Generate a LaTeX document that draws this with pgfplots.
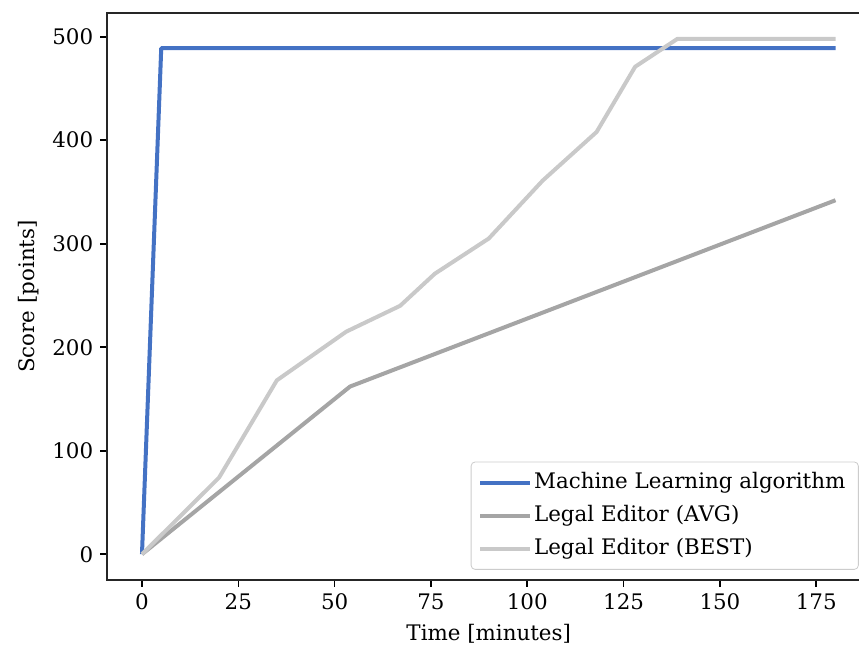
\documentclass[border=0pt]{standalone}
\usepackage{fontspec}
\setmainfont{DejaVu Serif}
\usepackage{pgfplots}
\pgfplotsset{compat=1.18}
\definecolor{mlblue}{HTML}{4472C4}
\definecolor{avggray}{HTML}{A5A5A5}
\definecolor{bestgray}{HTML}{C9C9C9}
\begin{document}
\begin{tikzpicture}
\begin{axis}[name=ax, scale only axis, width=381.45pt, height=283.5pt,
  xmin=-9, xmax=189, ymin=-24.9, ymax=522.9,
  xtick={0,25,...,175}, ytick={0,100,...,500},
  xticklabel={\pgfmathparse{int(round(\tick))}\pgfmathresult},
  yticklabel={\pgfmathparse{int(round(\tick))}\pgfmathresult},
  tick align=outside, tick pos=left, major tick length=3.5pt,
  every tick/.style={black, line width=0.8pt},
  axis line style={line width=0.8pt, black!85},
  ticklabel style={font=\fontsize{10.7}{12.8}\selectfont},
  label style={font=\fontsize{10.7}{12.8}\selectfont},
  xlabel={Time [minutes]}, ylabel={Score [points]},
  legend cell align=left,
  legend image code/.code={\draw[#1, line cap=rect] (0pt,0pt) -- (23pt,0pt);},
  legend style={at={(0.985,0.018)}, anchor=south east, draw=black!20,
    rounded corners=2pt, fill=white, fill opacity=0.8, text opacity=1,
    font=\fontsize{10.7}{12.8}\selectfont, row sep=5.8pt, inner xsep=4.5pt, inner ysep=5pt,
    nodes={text height=8.1pt, text depth=2.6pt, inner ysep=0pt}},
]
\addplot[mlblue, line width=2pt, line join=round] coordinates {(0,0) (5,489) (180,489)};
\addlegendentry{Machine Learning algorithm}
\addplot[avggray, line width=2pt, line join=round] coordinates {(0,0) (54,162) (180,342)};
\addlegendentry{Legal Editor (AVG)}
\addplot[bestgray, line width=2pt, line join=round] coordinates {(0,0) (20,74) (35,168) (53,215) (67,240) (76,271) (90,305) (104,361) (118,408) (128,471) (139,498) (180,498)};
\addlegendentry{Legal Editor (BEST)}
\end{axis}
\pgfresetboundingbox
\path[use as bounding box] ([xshift=-53.65pt, yshift=-34pt]ax.south west) rectangle ([xshift=-5.6pt, yshift=6.5pt]ax.north east);
\end{tikzpicture}
\end{document}
